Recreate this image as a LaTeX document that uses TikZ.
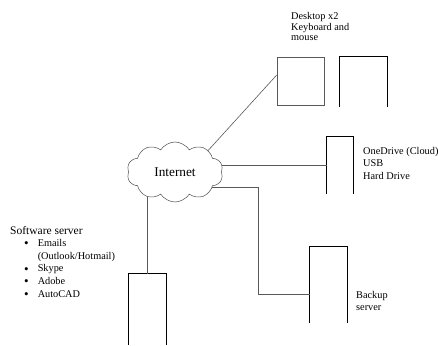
\documentclass[tikz,border=0pt]{standalone}
\usepackage{fontspec}
\setmainfont{Liberation Serif}
\usetikzlibrary{shapes.symbols,positioning,calc}

\newcommand{\swbul}{\raisebox{-1.3pt}{\fontsize{13}{12}\selectfont\textbullet}}

\begin{document}
\begin{tikzpicture}[x=1pt,y=-1pt,
		lbl/.style={align=left, anchor=north west, inner sep=0pt, font=\fontsize{10.3}{12.6}\selectfont},
		wire/.style={draw=black!65, line width=0.6pt},
		box/.style={draw=black, line width=0.8pt},
		unit/.style={inner sep=0pt, minimum width=#1}]
		\useasboundingbox (0,0) rectangle (438,345);
		% the cloud
		\node[cloud, draw=black!70, line width=0.5pt, cloud puffs=10, cloud puff arc=115, aspect=1.6,
			minimum width=96pt, minimum height=60pt, inner sep=0pt, font=\fontsize{13.3}{15}\selectfont] (inet) at (175,172) {Internet};
		% machines
		\node[unit=47pt, minimum height=48pt, draw=black!65, line width=0.6pt] (desk1) at (300.5,81) {};
		\node[unit=47pt, minimum height=50pt] (desk2) at (363.5,82) {};
		\node[unit=26pt, minimum height=57pt] (od) at (340,165.5) {};
		\node[unit=37pt, minimum height=76pt] (bk) at (328.5,285) {};
		\node[unit=37pt, minimum height=71pt] (sw) at (147.5,309.5) {};
		\foreach \n in {desk2,od,bk,sw}
			\draw[box] (\n.south west) |- (\n.north east) -- (\n.south east);
		% labels
		\node[lbl, font=\fontsize{10.3}{10.8}\selectfont] (desklbl) at (291,12) {Desktop x2\\Keyboard and\\mouse};
		\node[lbl] (odlbl) at (363,147) {OneDrive (Cloud)\\USB\\Hard Drive};
		\node[lbl] (bklbl) at (356,291) {Backup\\server};
		\node[lbl] (swlbl) at (10,225) {%
			\begin{tabular}{@{\hspace{14pt}}l@{\hspace{9pt}}l@{}}
				\multicolumn{2}{@{}l@{}}{\fontsize{11.5}{12.6}\selectfont Software server}\\
				\swbul & Emails\\
				       & (Outlook/Hotmail)\\
				\swbul & Skype\\
				\swbul & Adobe\\
				\swbul & AutoCAD
			\end{tabular}};
		% links
		\coordinate (bkin) at ($(bk.west)+(0,9)$);
		\draw[wire] ([yshift=6pt]desk1.west) -- (inet.33);
		\draw[wire] (inet.east |- od.west) -- (od.west);
		\draw[wire] (inet.-23) -| ($(bkin)+(-52,0)$) -- (bkin);
		\draw[wire] (sw.north) -- (sw.north |- inet.-137);
	\end{tikzpicture}
\end{document}
